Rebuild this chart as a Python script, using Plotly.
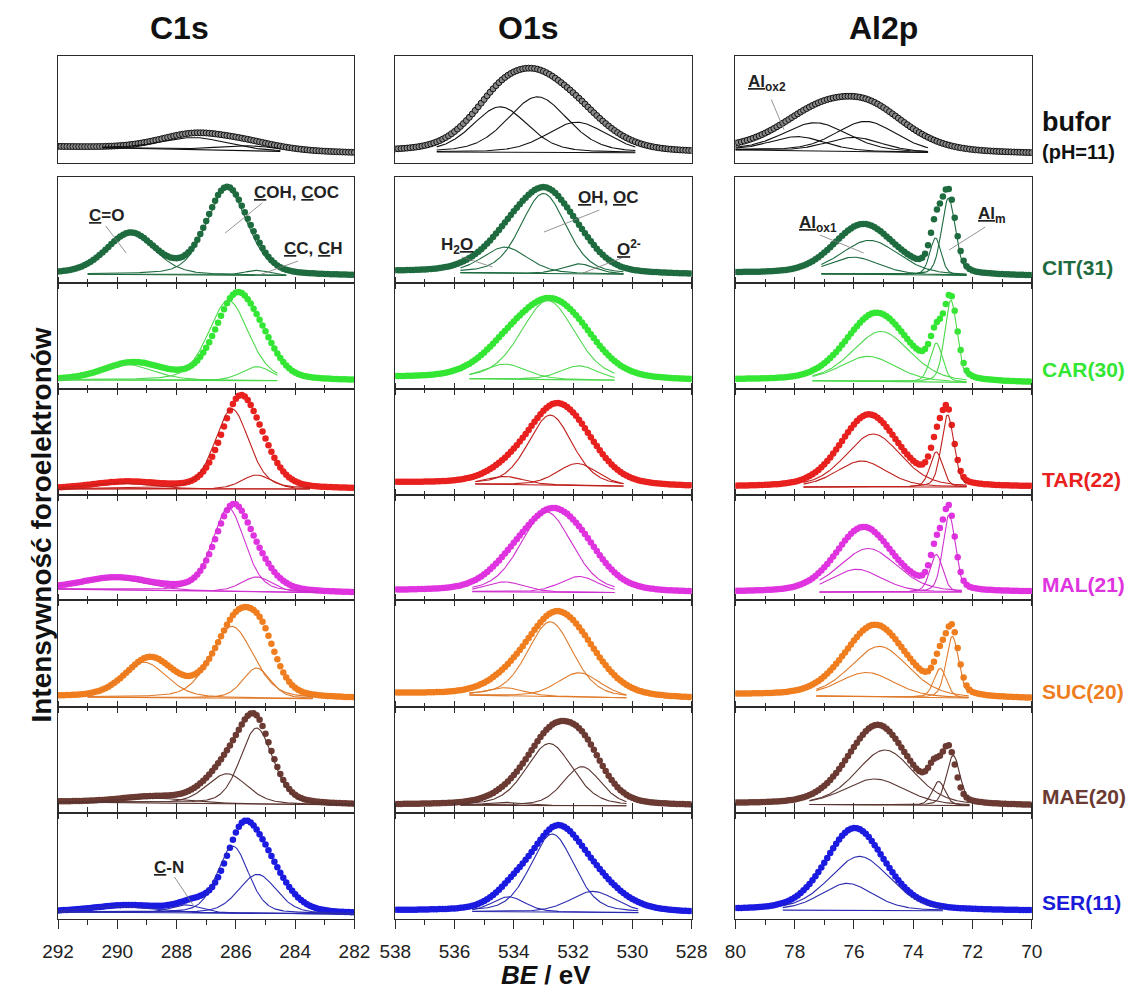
import numpy as np
import plotly.graph_objects as go

# The page places the figure 8 px from the top-left corner of the 1144x992 window,
# so the figure is sized to exactly fill the remaining window area.
PAGE_OFFSET = 8
W, H = 1144 - PAGE_OFFSET, 992 - PAGE_OFFSET

# ---------------- samples / styling ----------------
SAMPLES = ["bufor", "CIT(31)", "CAR(30)", "TAR(22)", "MAL(21)", "SUC(20)", "MAE(20)", "SER(11)"]
DOT_COLORS = ["#8a8a8a", "#1E6B3F", "#33E633", "#E8201E", "#E033E0", "#F07D1E", "#6B3A32", "#1A1AE0"]
LINE_COLORS = ["#111111", "#1E6B3F", "#4CD94C", "#C0201C", "#D030D0", "#E07A2A", "#5A3530", "#2A2AB0"]
LABEL_COLORS = ["#111111", "#1E6B3F", "#33E633", "#E8201E", "#E033E0", "#EE7D1E", "#6B3A32", "#1A1AD8"]

CORE_LEVELS = ["C1s", "O1s", "Al2p"]
BE_RANGES = [(292, 282), (538, 528), (80, 70)]
TICKS_C1S = [292, 290, 288, 286, 284, 282]
TICKS_O1S = [538, 536, 534, 532, 530, 528]
TICKS_AL2P = [80, 78, 76, 74, 72, 70]

# ---------------- C1s fit components (BE / eV, FWHM / eV, height / a.u.) ----------------
C1S_POS = [
    [287.4, 285.6],
    [289.55, 286.3, 285.3],
    [289.75, 286.25, 285.3],
    [290.0, 286.13, 285.3],
    [290.2, 286.25, 285.3],
    [289.1, 286.13, 285.3],
    [288.8, 286.3, 285.3],
    [290.0, 287.7, 286.1, 285.27],
]
C1S_FWHM = [
    [2.6, 2.4],
    [1.95, 1.65, 1.0],
    [2.2, 1.6, 1.2],
    [2.5, 1.35, 1.2],
    [2.5, 1.3, 1.2],
    [1.8, 1.7, 1.1],
    [2.5, 1.6, 1.3],
    [2.5, 1.2, 1.25, 1.5],
]
C1S_HEIGHT = [
    [12, 5],
    [40, 86, 5],
    [16, 80, 14],
    [6, 80, 14],
    [12, 84, 15],
    [35, 71, 30],
    [5, 30, 76],
    [6, 8, 67, 39],
]
C1S_BG = [(8, 2), (1, -1), (1, 0), (-2, -2), (3, -1), (2, 0), (3, 0), (-1, -3)]
C1S_WINDOW = [(290.5, 284.5), (291.0, 284.3), (292, 284.6), (292, 283.5), (292, 283.2), (291, 283.4), (292, 282), (292, 282)]
C1S_SHIFT = [0, 0, -0.28, -0.26, -0.15, -0.2, 0.05, -0.3]
C1S_BROADEN = [1.1, 1.0, 1.05, 1.1, 1.1, 1.05, 1.05, 1.1]
C1S_SCALE = [1.23, 1.01, 1.056, 1.10, 1.0, 1.093, 1.026, 1.04]

# ---------------- O1s fit components ----------------
O1S_POS = [
    [534.46, 533.2, 531.87],
    [534.3, 533.0, 531.8],
    [534.3, 532.85, 531.8],
    [534.3, 532.77, 531.86],
    [534.3, 532.9, 531.8],
    [534.3, 532.77, 531.8],
    [534.3, 532.8, 531.7],
    [534.17, 532.7, 531.33],
]
O1S_FWHM = [
    [2.2, 2.4, 2.4],
    [1.8, 1.8, 1.3],
    [1.7, 2.15, 1.5],
    [1.5, 1.75, 1.6],
    [1.5, 2.05, 1.5],
    [1.5, 1.8, 1.7],
    [1.5, 1.85, 1.5],
    [1.3, 1.74, 1.8],
]
O1S_HEIGHT = [
    [45, 55, 30],
    [26, 80, 10],
    [15, 79, 14],
    [8, 70, 22],
    [10, 81, 16],
    [8, 74, 24],
    [3, 62, 39],
    [15, 78, 21],
]
O1S_BG = [(3, 2), (3, 0), (3, 0), (4, 0), (1, -1), (5, 0), (0, -1), (0, -2)]
O1S_WINDOW = [(536.6, 529.9), (535.8, 530.3), (535.5, 530.6), (535.3, 530.3), (535.4, 530.6), (535.5, 530.2), (535.8, 530.2), (535.4, 529.8)]
O1S_SHIFT = [0, -0.1, 0, -0.1, -0.15, -0.1, -0.05, -0.15]
O1S_BROADEN = [1.15, 1.25, 1.3, 1.3, 1.25, 1.3, 1.15, 1.2]
O1S_SCALE = [0.883, 0.925, 0.905, 0.963, 0.945, 0.937, 1.054, 0.997]

# ---------------- Al2p fit components ----------------
AL2P_POS = [
    [77.9, 77.3, 76.0, 75.6],
    [76.0, 75.47, 73.25, 72.81],
    [75.52, 75.08, 73.22, 72.73],
    [75.74, 75.35, 73.22, 72.84],
    [75.9, 75.52, 73.22, 72.79],
    [75.57, 75.14, 73.09, 72.68],
    [75.3, 74.95, 73.14, 72.65],
    [76.23, 75.81],
]
AL2P_FWHM = [
    [2.2, 2.6, 2.2, 2.4],
    [2.0, 2.3, 0.45, 0.55],
    [2.2, 2.3, 0.5, 0.5],
    [2.0, 2.2, 0.5, 0.5],
    [2.0, 2.3, 0.5, 0.5],
    [2.2, 2.3, 0.5, 0.5],
    [2.4, 2.3, 0.5, 0.55],
    [2.1, 2.4],
]
AL2P_HEIGHT = [
    [14, 28, 14, 30],
    [17, 34, 37, 77],
    [25, 50, 39, 82],
    [26, 53, 35, 72],
    [23, 44, 38, 78],
    [24, 50, 29, 61],
    [26, 55, 24, 50],
    [27, 54],
]
AL2P_BG = [(5, 1), (2, -1), (1, -2), (0, 0), (0, 0), (4, 0), (1, -1), (1, 0)]
AL2P_WINDOW = [(80, 73.5), (77.1, 72.2), (77.4, 72.2), (77.7, 72.2), (77.16, 72.35), (77.27, 72.13), (77.5, 72.1), (78.4, 73.0)]
AL2P_SHIFT = [-0.3, 0, 0, 0, 0, 0, 0.15, 0]
AL2P_BROADEN = [1.3, 1.05, 1.05, 1.05, 1.0, 1.05, 1.0, 1.0]
AL2P_SCALE = [0.816, 1.02, 0.934, 0.936, 1.0, 0.984, 1.0, 1.044]

# ---------------- layout geometry (window pixels) ----------------
COL_PX = [(43, 348), (390, 695), (740, 1045)]
ROW_PX = [(56, 163), (177, 283), (283, 389), (389, 495), (495, 600), (600, 707), (707, 813), (813, 919)]
Y_RANGE = [-8, 98]
GL_MIX = 0.3
STEP = 0.1

CORE_DATA = [
    (C1S_POS, C1S_FWHM, C1S_HEIGHT, C1S_BG, C1S_WINDOW, C1S_SHIFT, C1S_BROADEN, C1S_SCALE, TICKS_C1S),
    (O1S_POS, O1S_FWHM, O1S_HEIGHT, O1S_BG, O1S_WINDOW, O1S_SHIFT, O1S_BROADEN, O1S_SCALE, TICKS_O1S),
    (AL2P_POS, AL2P_FWHM, AL2P_HEIGHT, AL2P_BG, AL2P_WINDOW, AL2P_SHIFT, AL2P_BROADEN, AL2P_SCALE, TICKS_AL2P),
]


def pseudo_voigt(x, c, w, h):
    d2 = (x - c) ** 2 / w ** 2
    return h * ((1 - GL_MIX) * np.exp(-4 * np.log(2) * d2) + GL_MIX / (1 + 4 * d2))


def background(x, lo_be, hi_be, bg):
    # bg = (value at high-BE edge, value at low-BE edge)
    t = (hi_be - x) / (hi_be - lo_be)
    return bg[0] + (bg[1] - bg[0]) * t


def px2fx(px):
    return (px - PAGE_OFFSET) / W


def px2fy(py):
    return 1 - (py - PAGE_OFFSET) / H


fig = go.Figure()
layout_axes = {}

for c, (pos, fw, hts, bgs, wins, shifts, broads, scales, ticks) in enumerate(CORE_DATA):
    hi_be, lo_be = BE_RANGES[c]
    for r in range(len(SAMPLES)):
        k = r * 3 + c + 1
        xa = "x" if k == 1 else f"x{k}"
        ya = "y" if k == 1 else f"y{k}"
        # measured points
        x = np.round(np.arange(hi_be, lo_be - 1e-9, -STEP), 2)
        env = np.zeros_like(x)
        for p, w, h in zip(pos[r], fw[r], hts[r]):
            env += pseudo_voigt(x - shifts[r], p, w * broads[r], h)
        ydots = background(x, lo_be, hi_be, bgs[r]) + scales[r] * env
        if r == 0:
            marker = dict(size=6, color=DOT_COLORS[r], line=dict(color="#111111", width=1))
        else:
            marker = dict(size=6.5, color=DOT_COLORS[r], line=dict(width=0))
        fig.add_trace(go.Scatter(x=x, y=ydots, mode="markers", marker=marker,
                                 xaxis=xa, yaxis=ya, showlegend=False, hoverinfo="skip"))
        # fit components
        xw = np.round(np.arange(wins[r][0], wins[r][1] - 1e-9, -0.02), 3)
        base = background(xw, lo_be, hi_be, bgs[r])
        fig.add_trace(go.Scatter(x=xw, y=base, mode="lines",
                                 line=dict(color=LINE_COLORS[r], width=1.1),
                                 xaxis=xa, yaxis=ya, showlegend=False, hoverinfo="skip"))
        for p, w, h in zip(pos[r], fw[r], hts[r]):
            fig.add_trace(go.Scatter(x=xw, y=base + pseudo_voigt(xw, p, w, h), mode="lines",
                                     line=dict(color=LINE_COLORS[r], width=1.1),
                                     xaxis=xa, yaxis=ya, showlegend=False, hoverinfo="skip"))
        # axes
        x0, x1 = COL_PX[c]
        y0, y1 = ROW_PX[r]
        xkey = "xaxis" if k == 1 else f"xaxis{k}"
        ykey = "yaxis" if k == 1 else f"yaxis{k}"
        xdict = dict(domain=[px2fx(x0), px2fx(x1)], anchor=ya, range=[hi_be, lo_be],
                     showline=True, linecolor="#2b2b2b", linewidth=1.4, showgrid=False,
                     zeroline=False, tickvals=ticks, tickcolor="#2b2b2b", tickwidth=1.4,
                     tickfont=dict(family="Liberation Sans, Arial, sans-serif", size=19, color="#222222"))
        if r == 0:
            xdict.update(ticks="", mirror=True, showticklabels=False)
        else:
            last = r == len(SAMPLES) - 1
            xdict.update(ticks="outside", ticklen=9 if last else 5,
                         mirror=True if r == 1 else "ticks",
                         showticklabels=last, ticklabelstandoff=6,
                         minor=dict(dtick=1, ticks="outside", ticklen=5 if last else 3,
                                    tickcolor="#2b2b2b", tickwidth=1.2, showgrid=False))
        layout_axes[xkey] = xdict
        layout_axes[ykey] = dict(domain=[px2fy(y1), px2fy(y0)], anchor=xa, range=Y_RANGE,
                                 showline=True, linecolor="#2b2b2b", linewidth=1.4, mirror=True,
                                 showgrid=False, zeroline=False, ticks="", showticklabels=False)

annotations = []
FONT = "Liberation Sans, Arial, sans-serif"

# column titles
for name, cx in zip(CORE_LEVELS, [168, 527, 892]):
    annotations.append(dict(text=f"<b>{name}</b>", x=px2fx(cx), y=px2fy(28), xref="paper", yref="paper",
                            showarrow=False, xanchor="center", yanchor="middle",
                            font=dict(family=FONT, size=32, color="#111111")))

# sample labels on the right
LABEL_Y = [122, 267, 369, 479, 584, 691, 796, 902]
for r, name in enumerate(SAMPLES):
    size = 27 if r == 0 else 21
    annotations.append(dict(text=f"<b>{name}</b>", x=px2fx(1053), y=px2fy(LABEL_Y[r]), xref="paper", yref="paper",
                            showarrow=False, xanchor="left", yanchor="middle",
                            font=dict(family=FONT, size=size, color=LABEL_COLORS[r])))
annotations.append(dict(text="<b>(pH=11)</b>", x=px2fx(1053), y=px2fy(152), xref="paper", yref="paper",
                        showarrow=False, xanchor="left", yanchor="middle",
                        font=dict(family=FONT, size=20, color="#111111")))

# axis titles
annotations.append(dict(text="<b>Intensywność foroelektronów</b>", x=px2fx(25), y=px2fy(525),
                        xref="paper", yref="paper", showarrow=False, textangle=-90,
                        xanchor="center", yanchor="middle",
                        font=dict(family=FONT, size=28, color="#111111")))
annotations.append(dict(text="<b><i>BE</i> / eV</b>", x=px2fx(545), y=px2fy(975),
                        xref="paper", yref="paper", showarrow=False,
                        xanchor="center", yanchor="middle",
                        font=dict(family=FONT, size=26, color="#111111")))

# peak labels with leader lines (data coordinates of the panels)
PEAK_LABELS = [
    # (panel k, text, label BE, label I, leader start BE, I, leader end BE, I)
    (4, "<b><u>C</u>=O</b>", 290.36, 60, 290.39, 49, 289.70, 22),
    (4, "<b><u>C</u>OH, <u>C</u>OC</b>", 283.97, 83, 285.11, 72, 286.36, 42),
    (4, "<b><u>C</u>C, <u>C</u>H</b>", 283.38, 27, 283.90, 14, 285.21, 0),
    (5, "<b>H<sub>2</sub><u>O</u></b>", 535.93, 29, 535.75, 18, 534.72, 8),
    (5, "<b><u>O</u>H, <u>O</u>C</b>", 530.82, 78, 531.11, 65, 532.98, 43),
    (5, "<b><u>O</u><sup>2-</sup></b>", 530.13, 27, 530.36, 17, 531.67, 2),
    (3, "<b><u>Al</u><sub>ox2</sub></b>", 78.95, 71, 78.79, 55, 78.36, 25),
    (6, "<b><u>Al</u><sub>ox1</sub></b>", 77.21, 51, 77.15, 40, 75.67, 22),
    (6, "<b><u>Al</u><sub>m</sub></b>", 71.34, 60, 71.57, 48, 72.79, 25),
    (22, "<b><u>C</u>-N</b>", 288.26, 44, 288.07, 34, 287.44, 6),
]
shapes = []
for k, txt, lx, ly, sx, sy, ex, ey in PEAK_LABELS:
    xr = "x" if k == 1 else f"x{k}"
    yr = "y" if k == 1 else f"y{k}"
    annotations.append(dict(text=txt, x=lx, y=ly, xref=xr, yref=yr, showarrow=False,
                            xanchor="center", yanchor="middle",
                            font=dict(family=FONT, size=17, color="#222222")))
    shapes.append(dict(type="line", x0=sx, y0=sy, x1=ex, y1=ey, xref=xr, yref=yr,
                       line=dict(color="#7a7a7a", width=0.8)))

fig.update_layout(
    width=W, height=H,
    margin=dict(l=0, r=0, t=0, b=0, pad=0),
    paper_bgcolor="white", plot_bgcolor="white",
    showlegend=False,
    annotations=annotations, shapes=shapes,
    **layout_axes,
)

fig.write_html("out.html")
